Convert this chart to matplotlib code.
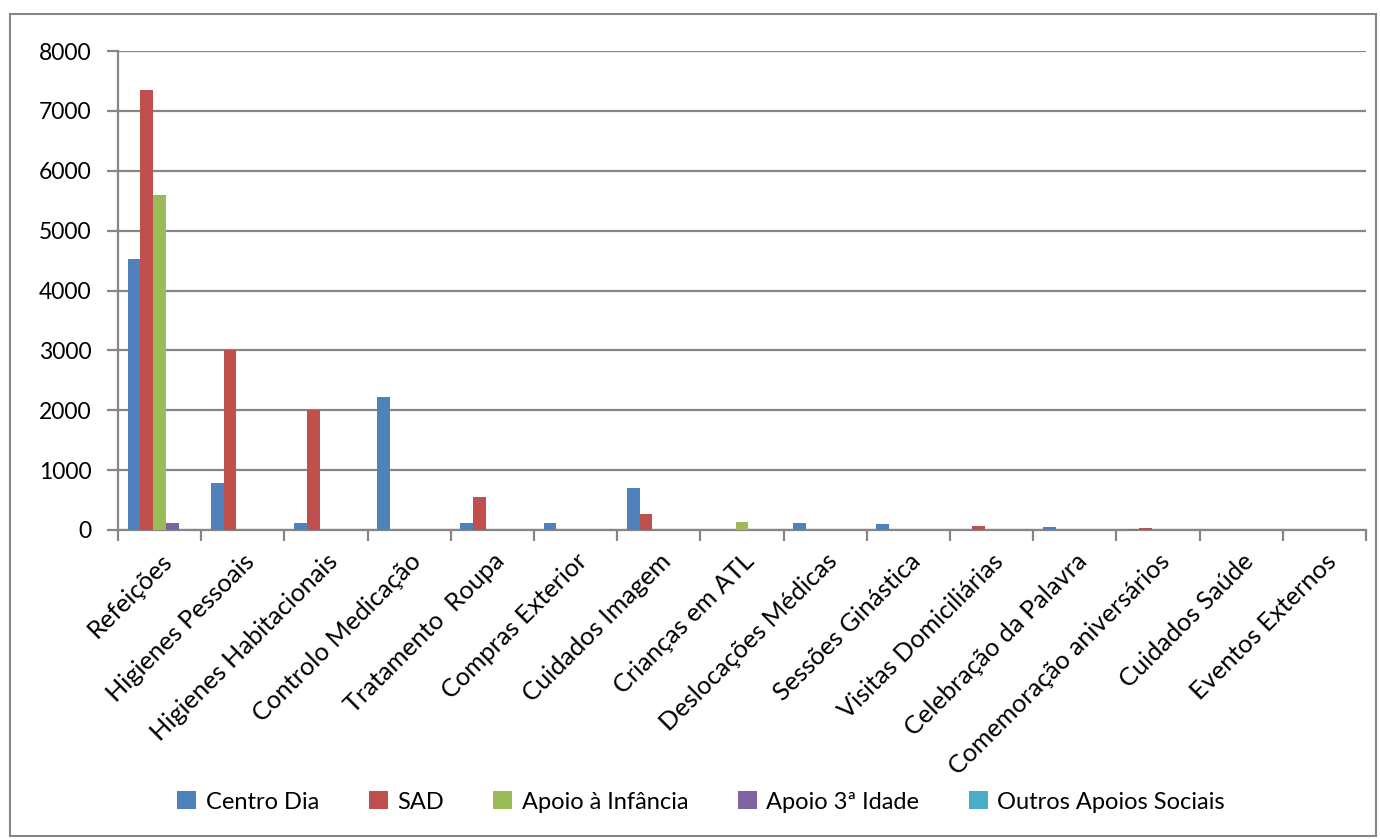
import numpy as np
import matplotlib.pyplot as plt
from matplotlib.patches import Rectangle

plt.rcParams['font.family'] = ['Lato', 'DejaVu Sans']

categories = ['Refeições', 'Higienes Pessoais', 'Higienes Habitacionais', 'Controlo Medicação',
              'Tratamento  Roupa', 'Compras Exterior', 'Cuidados Imagem', 'Crianças em ATL',
              'Deslocações Médicas', 'Sessões Ginástica', 'Visitas Domiciliárias',
              'Celebração da Palavra', 'Comemoração aniversários', 'Cuidados Saúde', 'Eventos Externos']

centro_dia = [4520, 790, 120, 2220, 110, 110, 700, 0, 125, 100, 0, 50, 20, 0, 0]
sad = [7350, 3000, 2000, 0, 545, 0, 265, 0, 0, 0, 62, 0, 30, 0, 0]
apoio_infancia = [5600, 0, 0, 0, 0, 0, 0, 135, 0, 0, 0, 0, 0, 0, 0]
apoio_3idade = [120, 0, 0, 0, 0, 0, 0, 0, 0, 0, 0, 0, 0, 0, 0]
outros = [0, 0, 0, 0, 0, 0, 0, 0, 0, 0, 0, 0, 0, 0, 0]

series = [('Centro Dia', centro_dia, '#4F81BD'),
          ('SAD', sad, '#C0504D'),
          ('Apoio à Infância', apoio_infancia, '#9BBB59'),
          ('Apoio 3ª Idade', apoio_3idade, '#8064A2'),
          ('Outros Apoios Sociais', outros, '#4BACC6')]

fig = plt.figure(figsize=(13.8, 8.39), dpi=100)
ax = fig.add_axes([118 / 1380, 1 - 530 / 839, 1248 / 1380, 479 / 839])

x = np.arange(len(categories))
w = 1 / 6.5
for i, (name, vals, col) in enumerate(series):
    ax.bar(x + (i - 2) * w, vals, w, color=col, label=name, zorder=3)

ax.set_xlim(-0.5, len(categories) - 0.5)
ax.set_ylim(0, 8000)
ax.set_yticks(np.arange(0, 8001, 1000))
ax.yaxis.grid(True, color='#868686', linewidth=1.6, zorder=0)
ax.tick_params(axis='y', labelsize=16.5, length=8, width=1.6, color='#868686', pad=11)

ax.set_xticks(x)
ax.set_xticklabels(categories, rotation=45, ha='right', rotation_mode='anchor', fontsize=18.3)
ax.tick_params(axis='x', which='major', length=0, pad=14)
ax.set_xticks(np.arange(-0.5, len(categories)), minor=True)
ax.tick_params(axis='x', which='minor', length=8, width=1.6, color='#868686')

for s in ['top', 'right']:
    ax.spines[s].set_visible(False)
for s in ['left', 'bottom']:
    ax.spines[s].set_color('#868686')
    ax.spines[s].set_linewidth(1.6)

fig.legend(loc='center', bbox_to_anchor=(0.508, 1 - 802 / 839), ncol=5, frameon=False,
           fontsize=17, handlelength=0.8, handleheight=0.8, handletextpad=0.4, columnspacing=2.1)

fig.patches.append(Rectangle((10 / 1380, 3 / 839), 1366 / 1380, 822 / 839, transform=fig.transFigure,
                             fill=False, edgecolor='#868686', linewidth=1.5))

fig.savefig('out.png', dpi=100, facecolor='white')
